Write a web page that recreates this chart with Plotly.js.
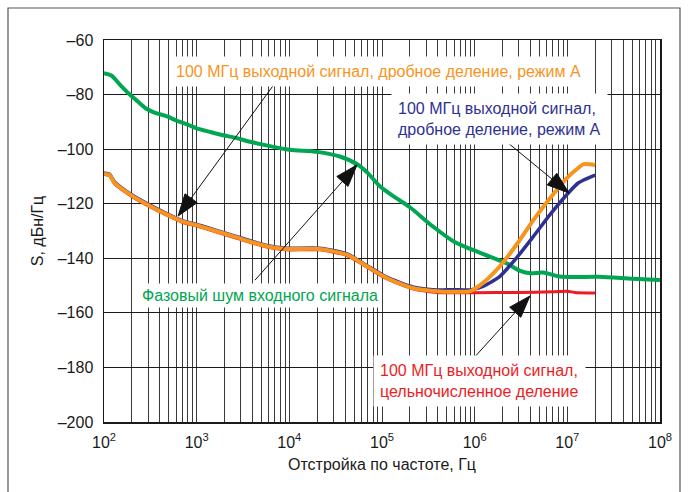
<!DOCTYPE html>
<html><head><meta charset="utf-8">
<script src="https://cdn.plot.ly/plotly-3.0.1.min.js"></script>
<style>html,body{margin:0;padding:0;background:#fff;}#chart{width:688px;height:492px;}</style>
</head><body><div id="chart"></div>
<script>
// ---- data ----
const greenF = [100,120,150,190,240,290,350,480,600,800,1000,1400,2000,2500,4000,6000,10000,20000,35000,55000,70000,95000,140000,200000,350000,600000,1150000,2200000,3100000,4000000,5500000,8300000,22000000,50000000,100000000];
const greenS = [-72.2,-73,-76.5,-80,-83,-85.3,-86.6,-88,-89.5,-91,-92.4,-93.7,-95,-95.7,-97.5,-98.8,-100.2,-101,-102.7,-105.7,-108.7,-113.6,-117.8,-121.3,-128.2,-133.9,-138,-141.8,-144.6,-145.5,-145.2,-146.7,-146.8,-147.5,-148];

const fracF = [100,115,130,205,320,480,700,1100,2500,5700,9300,21000,42000,69000,112000,215000,390000,600000,900000,1230000,1860000,2900000,4300000,6500000,9800000,13000000,15000000,20000000];
const orangeS = [-109,-109.5,-112.4,-117.3,-121,-124,-126.5,-128.3,-132,-135.6,-136.6,-136.6,-138.7,-143,-147.2,-150.9,-152.1,-152.3,-152,-149,-143,-134.5,-126,-118,-110.7,-107,-105.5,-105.8];
const blueS   = [-108.7,-109.2,-112,-117,-120.7,-123.7,-126.2,-128,-131.7,-135.3,-136.3,-136.3,-138.4,-142.7,-146.9,-150.5,-151.6,-151.5,-151.6,-150.3,-146.7,-139.4,-132,-124,-116.8,-112.5,-111.3,-109.5];

const redF = [100,115,130,205,320,480,700,1100,2500,5700,9300,21000,42000,69000,112000,215000,390000,1000000,3000000,7000000,10000000,12000000,20000000];
const redS = [-109.3,-109.8,-112.7,-117.6,-121.3,-124.3,-126.8,-128.6,-132.3,-135.9,-136.9,-136.9,-139,-143.3,-147.5,-151.2,-152.5,-152.6,-152.5,-152.3,-152.1,-152.5,-152.7];

const xTickVals = [];
const xTickText = [];
for (let e = 2; e <= 8; e++) {
  for (let m = 1; m <= (e === 8 ? 1 : 9); m++) {
    xTickVals.push(m * Math.pow(10, e));
    xTickText.push(m === 1 ? '10<sup>' + e + '</sup>' : '');
  }
}
const yTickVals = [-200,-180,-160,-140,-120,-100,-80,-60];
const yTickText = ['–200','–180','–160','–140','–120','–100','–80','–60'];

const labelOrange = '100 МГц выходной сигнал, дробное деление, режим А';
const labelBlue = '100 МГц выходной сигнал,<br>дробное деление, режим А';
const labelGreen = 'Фазовый шум входного сигнала';
const labelRed = '100 МГц выходной сигнал,<br>цельночисленное деление';

// ---- layout geometry ----
const W = 688, H = 492;
const M = {l: 104, r: 28, t: 40, b: 70};
const PW = W - M.l - M.r, PH = H - M.t - M.b;
const XR = [2, 8], YR = [-200, -60];

function toPx(lf, s) {
  return [M.l + (lf - XR[0]) / (XR[1] - XR[0]) * PW, M.t + (YR[1] - s) / (YR[1] - YR[0]) * PH];
}
function toPaper(px, py) {
  return [(px - M.l) / PW, 1 - (py - M.t) / PH];
}
function pxToLogX(px) { return XR[0] + (px - M.l) / PW * (XR[1] - XR[0]); }

// arrows: [tail(logf,S), head(logf,S)]
const arrows = [
  [[3.845, -75.8], [2.80, -124.5]],
  [[3.63, -148.0], [4.73, -105.8]],
  [[6.295, -95.9], [7.018, -116.1]],
  [[6.0, -176.2], [6.597, -153.8]]
];

const shapes = [];
// outer frame
shapes.push({type: 'rect', xref: 'paper', yref: 'paper',
  x0: (8 - M.l) / PW, x1: (680 - M.l) / PW, y0: 1 - (500 - M.t) / PH, y1: 1 - (8 - M.t) / PH,
  line: {color: '#555', width: 1.2}, fillcolor: 'rgba(0,0,0,0)', layer: 'above'});

const HL = 22, HW = 7.5;
arrows.forEach(a => {
  const t = toPx(a[0][0], a[0][1]), h = toPx(a[1][0], a[1][1]);
  const dx = h[0] - t[0], dy = h[1] - t[1];
  const len = Math.hypot(dx, dy), ux = dx / len, uy = dy / len;
  const bx = h[0] - ux * HL, by = h[1] - uy * HL;
  const p1 = toPaper(t[0], t[1]), p2 = toPaper(bx + ux * 4, by + uy * 4);
  shapes.push({type: 'line', xref: 'paper', yref: 'paper', x0: p1[0], y0: p1[1], x1: p2[0], y1: p2[1],
    line: {color: '#111', width: 1}, layer: 'above'});
  const q0 = toPaper(h[0], h[1]);
  const q1 = toPaper(bx - uy * HW, by + ux * HW);
  const q2 = toPaper(bx + uy * HW, by - ux * HW);
  shapes.push({type: 'path', xref: 'paper', yref: 'paper',
    path: `M${q0[0]},${q0[1]} L${q1[0]},${q1[1]} L${q2[0]},${q2[1]} Z`,
    fillcolor: '#111', line: {color: '#111', width: 1}, layer: 'above'});
});

const FONT = 'Liberation Sans, Arial, sans-serif';
const cOrange = '#f7941d', cBlue = '#2e3192', cGreen = '#00a651', cRed = '#ed1c24';

const traces = [
  {x: greenF, y: greenS, mode: 'lines', line: {color: cGreen, width: 4, shape: 'spline', smoothing: 0.8}},
  {x: redF, y: redS, mode: 'lines', line: {color: cRed, width: 3, shape: 'spline', smoothing: 0.6}},
  {x: fracF, y: blueS, mode: 'lines', line: {color: cBlue, width: 3.5, shape: 'spline', smoothing: 0.6}},
  {x: fracF, y: orangeS, mode: 'lines', line: {color: cOrange, width: 4, shape: 'spline', smoothing: 0.6}}
];

const FS = 16;
const annFont = c => ({family: FONT, size: FS, color: c});
const annotations = [
  {xref: 'x', yref: 'y', x: 4.957, y: -71.4, text: labelOrange, showarrow: false,
   font: annFont(cOrange), bgcolor: '#fff', borderpad: 6},
  {xref: 'x', yref: 'y', x: pxToLogX(391), y: -88.9, text: labelBlue, showarrow: false, xanchor: 'left', align: 'left',
   font: annFont(cBlue), bgcolor: '#fff', borderpad: 6},
  {xref: 'x', yref: 'y', x: 3.683, y: -153.8, text: labelGreen, showarrow: false,
   font: annFont(cGreen), bgcolor: '#fff', borderpad: 3},
  {xref: 'x', yref: 'y', x: pxToLogX(373), y: -185, text: labelRed, showarrow: false, xanchor: 'left', align: 'left',
   font: annFont(cRed), bgcolor: '#fff', borderpad: 6}
];

const layout = {
  width: W, height: H, margin: M, showlegend: false,
  paper_bgcolor: '#fff', plot_bgcolor: '#fff',
  font: {family: FONT, size: FS, color: '#1a1a1a'},
  xaxis: {type: 'log', range: XR, tickvals: xTickVals, ticktext: xTickText, ticks: '',
    showgrid: true, gridcolor: '#3a3a3a', gridwidth: 1, showline: true, mirror: true,
    linecolor: '#1a1a1a', linewidth: 1.5, zeroline: false, tickfont: {size: FS, color: '#1a1a1a'},
    ticklabelstandoff: 5,
    title: {text: 'Отстройка по частоте, Гц', font: {size: FS, color: '#1a1a1a'}, standoff: 9}},
  yaxis: {range: YR, tickvals: yTickVals, ticktext: yTickText, ticks: '',
    showgrid: true, gridcolor: '#1a1a1a', gridwidth: 1, showline: true, mirror: true,
    linecolor: '#1a1a1a', linewidth: 1.5, zeroline: false, tickfont: {size: FS, color: '#1a1a1a'},
    ticklabelstandoff: 6,
    title: {text: 'S, дБн/Гц', font: {size: FS, color: '#1a1a1a'}, standoff: 10}},
  shapes: shapes, annotations: annotations
};

Plotly.newPlot('chart', traces, layout, {displayModeBar: false, staticPlot: true});
</script></body></html>
